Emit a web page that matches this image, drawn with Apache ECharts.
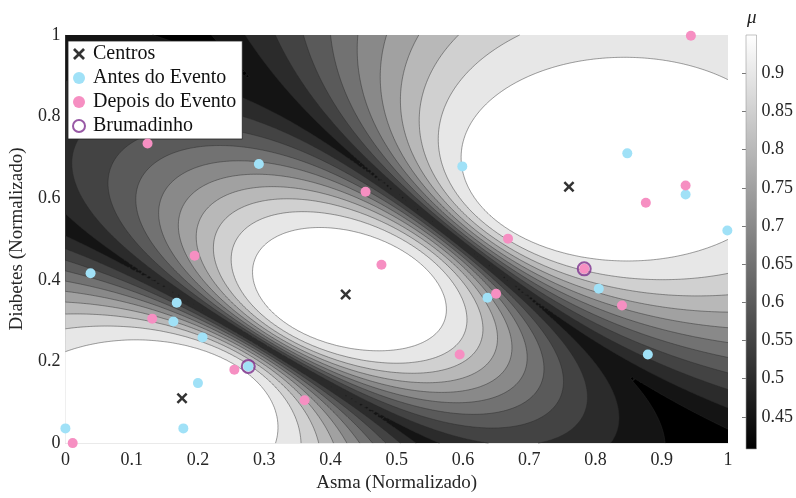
<!DOCTYPE html>
<html><head><meta charset="utf-8">
<script src="https://cdn.jsdelivr.net/npm/echarts@6/dist/echarts.min.js"></script>
<style>html,body{margin:0;padding:0;background:#fff}#c{width:796px;height:498px}</style>
</head><body><div id="c"></div>
<script>
// ---------------- data ----------------
const centersX = [0.176, 0.423, 0.760];
const centersY = [0.110, 0.364, 0.628];
const antesX = [0.000, 0.178, 0.038, 0.292, 0.168, 0.163, 0.207, 0.200, 0.276, 0.599, 0.848, 0.936, 0.999, 0.637, 0.805, 0.879];
const antesY = [0.036, 0.036, 0.416, 0.684, 0.344, 0.298, 0.259, 0.147, 0.188, 0.678, 0.710, 0.609, 0.521, 0.356, 0.378, 0.217];
const depoisX = [0.011, 0.124, 0.453, 0.195, 0.131, 0.477, 0.255, 0.361, 0.650, 0.668, 0.783, 0.840, 0.595, 0.876, 0.936, 0.944];
const depoisY = [0.000, 0.734, 0.616, 0.459, 0.305, 0.437, 0.180, 0.105, 0.366, 0.501, 0.427, 0.337, 0.217, 0.589, 0.631, 0.998];
const brumadinhoX = [0.276, 0.783];
const brumadinhoY = [0.188, 0.427];
const fuzzifier = 1.5;
const contourLevels = [0.45, 0.50, 0.55, 0.60, 0.65, 0.70, 0.75, 0.80, 0.85, 0.90, 0.95];
const colorbarRange = [0.408, 0.95];
const colorbarTicks = [0.45, 0.50, 0.55, 0.60, 0.65, 0.70, 0.75, 0.80, 0.85, 0.90];
const axisRange = [0, 1];
const axisStep = 0.1;

// ---------------- membership field (fuzzy c-means, max membership) ----------------
const NX = 222, NY = 138;
function maxMembership(x, y) {
  const p = 1 / (fuzzifier - 1);
  let s = 0, mx = 0;
  for (let k = 0; k < centersX.length; k++) {
    const d2 = (x - centersX[k]) ** 2 + (y - centersY[k]) ** 2;
    if (d2 < 1e-14) return 1;
    const w = Math.pow(d2, -p);
    s += w; if (w > mx) mx = w;
  }
  return mx / s;
}
const field = new Float64Array((NX + 1) * (NY + 1));
for (let j = 0; j <= NY; j++) for (let i = 0; i <= NX; i++) {
  field[j * (NX + 1) + i] = maxMembership(axisRange[0] + (axisRange[1] - axisRange[0]) * i / NX,
                                          axisRange[0] + (axisRange[1] - axisRange[0]) * j / NY);
}
function gray(L) {
  let v = (L - colorbarRange[0]) / (colorbarRange[1] - colorbarRange[0]);
  v = Math.max(0, Math.min(1, v));
  const g = Math.round(255 * v);
  return 'rgb(' + g + ',' + g + ',' + g + ')';
}
function getNodes(params, api) {
  const ctx = params.context;
  if (!ctx.nodes) {
    const nodes = new Float64Array((NX + 1) * (NY + 1) * 2);
    for (let j = 0; j <= NY; j++) for (let i = 0; i <= NX; i++) {
      const p = api.coord([axisRange[0] + (axisRange[1] - axisRange[0]) * i / NX,
                           axisRange[0] + (axisRange[1] - axisRange[0]) * j / NY]);
      const k = j * (NX + 1) + i;
      nodes[2 * k] = p[0]; nodes[2 * k + 1] = p[1];
    }
    ctx.nodes = nodes;
  }
  return ctx.nodes;
}
const f2 = v => v.toFixed(2);
function pt(nodes, k) { return [nodes[2 * k], nodes[2 * k + 1], field[k]]; }
function clipPoly(pts, L) {
  const out = [];
  for (let k = 0; k < pts.length; k++) {
    const a = pts[k], b = pts[(k + 1) % pts.length];
    const ina = a[2] >= L, inb = b[2] >= L;
    if (ina) out.push(a);
    if (ina !== inb) {
      const t = (L - a[2]) / (b[2] - a[2]);
      out.push([a[0] + t * (b[0] - a[0]), a[1] + t * (b[1] - a[1]), L]);
    }
  }
  return out;
}
function polyStr(poly) {
  let s = 'M' + f2(poly[0][0]) + ' ' + f2(poly[0][1]);
  for (let k = 1; k < poly.length; k++) s += 'L' + f2(poly[k][0]) + ' ' + f2(poly[k][1]);
  return s + 'Z';
}
function renderFill(params, api) {
  const nodes = getNodes(params, api);
  if (params.dataIndex === 0) {
    const a = api.coord([axisRange[0], axisRange[1]]);
    const b = api.coord([axisRange[1], axisRange[0]]);
    return { type: 'rect', silent: true, shape: { x: a[0], y: a[1], width: b[0] - a[0], height: b[1] - a[1] },
             style: { fill: gray(api.value(0)), stroke: 'none' } };
  }
  const L = api.value(0);
  const parts = [];
  const W = NX + 1;
  for (let j = 0; j < NY; j++) {
    let runStart = -1;
    for (let i = 0; i <= NX; i++) {
      let full = false;
      if (i < NX) {
        const a = j * W + i, b = a + 1, c = a + W + 1, e = a + W;
        const fa = field[a], fb = field[b], fc = field[c], fe = field[e];
        const mn = Math.min(fa, fb, fc, fe), mx = Math.max(fa, fb, fc, fe);
        if (mn >= L) full = true;
        else if (mx >= L) {
          const A = pt(nodes, a), B = pt(nodes, b), C = pt(nodes, c), E = pt(nodes, e);
          let p1 = clipPoly([A, B, C], L); if (p1.length >= 3) parts.push(polyStr(p1));
          let p2 = clipPoly([A, C, E], L); if (p2.length >= 3) parts.push(polyStr(p2));
        }
      }
      if (full) { if (runStart < 0) runStart = i; }
      else if (runStart >= 0) {
        const a = j * W + runStart, b = j * W + i, c = b + W, e = a + W;
        parts.push(polyStr([pt(nodes, a), pt(nodes, b), pt(nodes, c), pt(nodes, e)]));
        runStart = -1;
      }
    }
  }
  return { type: 'path', silent: true, shape: { pathData: parts.join('') },
           style: { fill: gray(L), stroke: 'none' } };
}
function segOnTri(P, L) {
  const pts = [];
  for (let k = 0; k < 3; k++) {
    const a = P[k], b = P[(k + 1) % 3];
    if ((a[2] >= L) !== (b[2] >= L)) {
      const t = (L - a[2]) / (b[2] - a[2]);
      pts.push([a[0] + t * (b[0] - a[0]), a[1] + t * (b[1] - a[1])]);
    }
  }
  if (pts.length === 2) return 'M' + f2(pts[0][0]) + ' ' + f2(pts[0][1]) + 'L' + f2(pts[1][0]) + ' ' + f2(pts[1][1]);
  return '';
}
function renderLines(params, api) {
  const nodes = getNodes(params, api);
  const L = api.value(0);
  const parts = [];
  const W = NX + 1;
  for (let j = 0; j < NY; j++) for (let i = 0; i < NX; i++) {
    const a = j * W + i, b = a + 1, c = a + W + 1, e = a + W;
    const mn = Math.min(field[a], field[b], field[c], field[e]);
    const mx = Math.max(field[a], field[b], field[c], field[e]);
    if (mn >= L || mx < L) continue;
    const A = pt(nodes, a), B = pt(nodes, b), C = pt(nodes, c), E = pt(nodes, e);
    const s1 = segOnTri([A, B, C], L); if (s1) parts.push(s1);
    const s2 = segOnTri([A, C, E], L); if (s2) parts.push(s2);
  }
  return { type: 'path', silent: true, shape: { pathData: parts.join('') || 'M0 0' },
           style: { fill: 'none', stroke: 'rgba(40,40,40,0.75)', lineWidth: 0.6 } };
}
function renderColorbar(params, api) {
  const a = api.coord([0, colorbarRange[1]]);
  const b = api.coord([1, colorbarRange[0]]);
  return { type: 'rect', silent: true,
    shape: { x: a[0], y: a[1], width: b[0] - a[0], height: b[1] - a[1] },
    style: { fill: new echarts.graphic.LinearGradient(0, 0, 0, 1, [{ offset: 0, color: '#fff' }, { offset: 1, color: '#000' }]),
             stroke: '#9a9a9a', lineWidth: 0.6 } };
}

const FONT = 'Liberation Serif';
const fmt = v => String(+(+v).toFixed(2));
const xSym = 'path://M1.6,0 L5,3.4 L8.4,0 L10,1.6 L6.6,5 L10,8.4 L8.4,10 L5,6.6 L1.6,10 L0,8.4 L3.4,5 L0,1.6 Z';
const zip = (xs, ys) => xs.map((x, i) => [x, ys[i]]);

const chart = echarts.init(document.getElementById('c'), null, { renderer: 'canvas' });
chart.setOption({
  animation: false,
  backgroundColor: '#fff',
  textStyle: { fontFamily: FONT },
  grid: [
    { left: 62, width: 666, top: 35, height: 414, containLabel: false },
    { left: 746, width: 11, top: 35, height: 414, containLabel: false }
  ],
  xAxis: [
    { type: 'value', gridIndex: 0, min: axisRange[0], max: axisRange[1], interval: axisStep,
      axisLine: { show: true, onZero: false, lineStyle: { color: '#dcdcdc', width: 0.6 } },
      axisTick: { show: false }, splitLine: { show: false },
      axisLabel: { formatter: fmt, fontSize: 18, color: '#262626', margin: 8, fontFamily: FONT },
      name: 'Asma (Normalizado)', nameLocation: 'middle', nameGap: 30,
      nameTextStyle: { fontSize: 19, color: '#262626', fontFamily: FONT } },
    { type: 'value', gridIndex: 1, min: 0, max: 1, show: false }
  ],
  yAxis: [
    { type: 'value', gridIndex: 0, min: axisRange[0], max: axisRange[1], interval: axisStep * 2,
      axisLine: { show: true, onZero: false, lineStyle: { color: '#dcdcdc', width: 0.6 } },
      axisTick: { show: false }, splitLine: { show: false },
      axisLabel: { formatter: fmt, fontSize: 18, color: '#262626', margin: 5, fontFamily: FONT },
      name: 'Diabetes (Normalizado)', nameLocation: 'middle', nameGap: 29,
      nameTextStyle: { fontSize: 19, color: '#262626', fontFamily: FONT } },
    { type: 'value', gridIndex: 1, min: colorbarRange[0], max: colorbarRange[1], position: 'right',
      axisLine: { show: false }, splitLine: { show: false },
      axisTick: { show: true, inside: true, length: 4, customValues: colorbarTicks, lineStyle: { color: '#555', width: 0.8 } },
      axisLabel: { customValues: colorbarTicks, formatter: fmt, fontSize: 18, color: '#262626', margin: 5, fontFamily: FONT } }
  ],
  legend: {
    data: ['Centros', 'Antes do Evento', 'Depois do Evento', 'Brumadinho'],
    orient: 'vertical', left: 68, top: 41, itemGap: 4, itemWidth: 14, itemHeight: 12,
    padding: [3, 6, 3, 4], backgroundColor: '#fff', borderColor: '#222', borderWidth: 0.8,
    textStyle: { fontSize: 20, lineHeight: 19, color: '#111', fontFamily: FONT, padding: [0, 0, 0, 2] }
  },
  graphic: [{ type: 'text', left: 747, top: 8, style: { text: 'μ', font: 'italic 19px ' + FONT, fill: '#222' } }],
  series: [
    { name: 'fill', type: 'custom', xAxisIndex: 0, yAxisIndex: 0, renderItem: renderFill, silent: true,
      data: [[colorbarRange[0]]].concat(contourLevels.map(L => [L])), z: 1 },
    { name: 'lines', type: 'custom', xAxisIndex: 0, yAxisIndex: 0, renderItem: renderLines, silent: true,
      data: contourLevels.map(L => [L]), z: 2 },
    { name: 'Antes do Evento', type: 'scatter', symbol: 'circle', symbolSize: 10, clip: false, z: 3,
      itemStyle: { color: '#a0e1f7', opacity: 1 }, data: zip(antesX, antesY) },
    { name: 'Depois do Evento', type: 'scatter', symbol: 'circle', symbolSize: 10, clip: false, z: 4,
      itemStyle: { color: '#f68fc2', opacity: 1 }, data: zip(depoisX, depoisY) },
    { name: 'Brumadinho', type: 'scatter', symbol: 'circle', symbolSize: 13, clip: false, z: 5,
      itemStyle: { color: 'rgba(0,0,0,0)', borderColor: '#7e2f8e', borderWidth: 2 }, data: zip(brumadinhoX, brumadinhoY) },
    { name: 'Centros', type: 'scatter', symbol: xSym, symbolSize: 11, clip: false, z: 6,
      itemStyle: { color: '#000' }, data: zip(centersX, centersY) },
    { name: 'colorbar', type: 'custom', xAxisIndex: 1, yAxisIndex: 1, renderItem: renderColorbar, silent: true,
      data: [[0.5]], z: 1 }
  ]
});
</script>
</body></html>
